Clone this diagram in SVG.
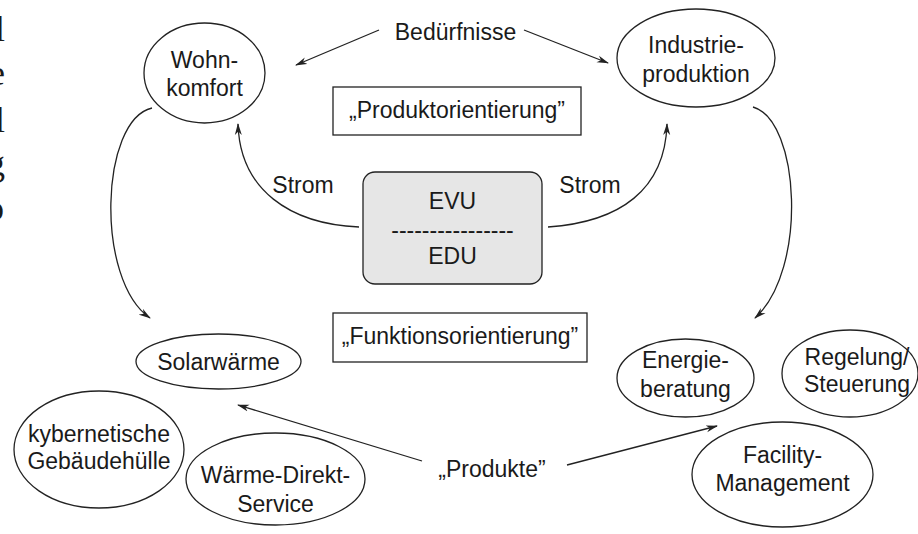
<svg xmlns="http://www.w3.org/2000/svg" width="918" height="534" viewBox="0 0 918 534">
<style>
text{font-family:"Liberation Sans",Arial,sans-serif;font-size:23px;fill:#1a1a1a;text-anchor:middle}
.frag{font-family:"Liberation Serif","Times New Roman",serif;font-size:36px;text-anchor:end}
.node{fill:#fff;stroke:#222;stroke-width:1.3}
.con{fill:none;stroke:#222;stroke-width:1.3;marker-end:url(#ah)}
</style>
<defs>
<marker id="ah" viewBox="0 0 12 8" refX="11" refY="4" markerWidth="12" markerHeight="8" markerUnits="userSpaceOnUse" orient="auto">
<path d="M0,0.5 L12,4 L0,7.5 L3.5,4 Z" fill="#222"/>
</marker>
</defs>
<rect width="918" height="534" fill="#fff"/>
<g id="fragments">
<text class="frag" x="5" y="41">l</text>
<text class="frag" x="5" y="85">e</text>
<text class="frag" x="5" y="132">l</text>
<text class="frag" x="5" y="175">g</text>
<text class="frag" x="4" y="220">o</text>
</g>
<g id="connectors">
<path class="con" d="M379,30 L296,65"/>
<path class="con" d="M524,30 L608,63"/>
<path class="con" d="M359,227 C290,224 240,190 238,124"/>
<path class="con" d="M548,227 C620,222 665,190 667,124"/>
<path class="con" d="M152,108 C100,120 95,280 150,318"/>
<path class="con" d="M753,107 C800,120 808,270 755,318"/>
<path class="con" d="M422,461 L238,405"/>
<path class="con" d="M567,465 L717,426"/>
</g>
<g id="beduerfnisse"><text x="455.5" y="40">Bedürfnisse</text></g>
<g id="wohnkomfort">
<ellipse class="node" cx="204.5" cy="73" rx="60.5" ry="50"/>
<text x="204.5" y="68">Wohn-</text>
<text x="204.5" y="96">komfort</text>
</g>
<g id="industrieproduktion">
<ellipse class="node" cx="696" cy="58" rx="79" ry="49"/>
<text x="696" y="53">Industrie-</text>
<text x="696" y="82">produktion</text>
</g>
<g id="produktorientierung">
<rect class="node" x="333" y="87" width="248" height="48"/>
<text x="457" y="118">„Produktorientierung”</text>
</g>
<g id="strom-links"><text x="303" y="193">Strom</text></g>
<g id="strom-rechts"><text x="590" y="193">Strom</text></g>
<g id="evu">
<rect x="363" y="172" width="179" height="112" rx="12" fill="#e6e6e6" stroke="#222" stroke-width="1.3"/>
<text x="452.5" y="209">EVU</text>
<text x="452.5" y="238">----------------</text>
<text x="452.5" y="264">EDU</text>
</g>
<g id="funktionsorientierung">
<rect class="node" x="333" y="313" width="254" height="49"/>
<text x="460" y="344">„Funktionsorientierung”</text>
</g>
<g id="solarwaerme">
<ellipse class="node" cx="218.5" cy="361.5" rx="82.5" ry="27.5"/>
<text x="218.5" y="370">Solarwärme</text>
</g>
<g id="kybernetische">
<ellipse class="node" cx="99" cy="449.5" rx="85" ry="58.5"/>
<text x="99" y="442">kybernetische</text>
<text x="99" y="469">Gebäudehülle</text>
</g>
<g id="waerme-direkt-service">
<ellipse class="node" cx="275.5" cy="479" rx="89.5" ry="46"/>
<text x="275.5" y="483">Wärme-Direkt-</text>
<text x="275.5" y="512">Service</text>
</g>
<g id="produkte"><text x="492" y="477">„Produkte”</text></g>
<g id="energieberatung">
<ellipse class="node" cx="685.5" cy="378" rx="68.5" ry="39"/>
<text x="685.5" y="368">Energie-</text>
<text x="685.5" y="397">beratung</text>
</g>
<g id="regelung">
<ellipse class="node" cx="850" cy="373.5" rx="68" ry="43.5"/>
<text x="857" y="365">Regelung/</text>
<text x="857" y="392">Steuerung</text>
</g>
<g id="facility">
<ellipse class="node" cx="782.5" cy="474.5" rx="90.5" ry="52.5"/>
<text x="782.5" y="463">Facility-</text>
<text x="782.5" y="491">Management</text>
</g>
</svg>
